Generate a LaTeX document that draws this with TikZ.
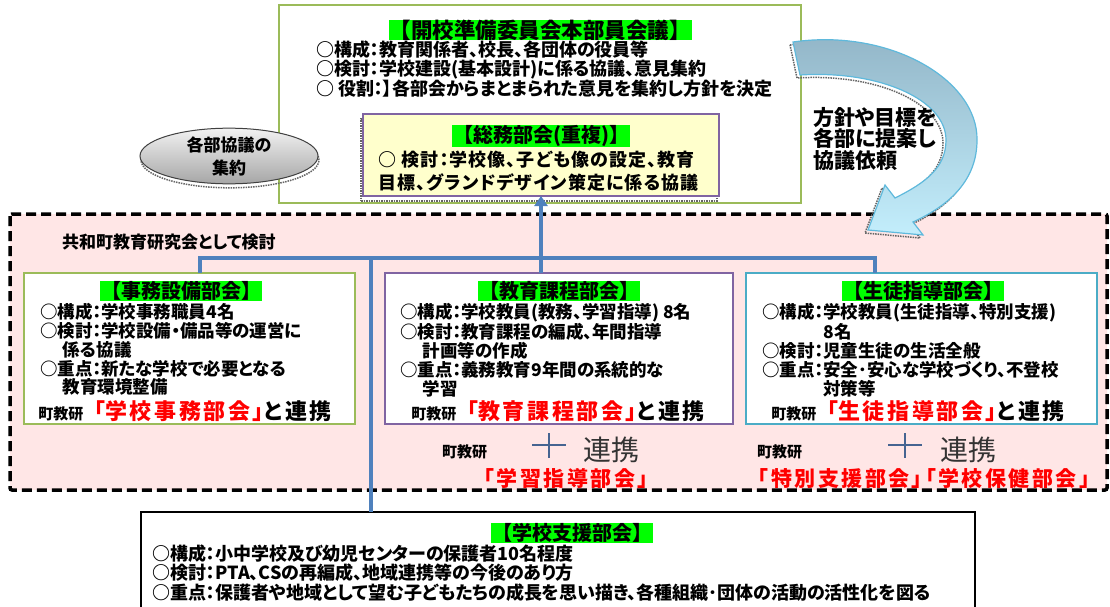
\documentclass[tikz,border=0pt]{standalone}
\usepackage{fontspec}
\setmainfont{Noto Sans CJK JP}[RawFeature=+palt]
\newfontfamily\zenkaku{Noto Sans CJK JP}
\newfontfamily\akitsume{Noto Sans CJK JP}[RawFeature=+palt, LetterSpace=12]
\newfontfamily\sukoshiaki{Noto Sans CJK JP}[RawFeature=+palt, LetterSpace=6]
\usepackage{tikz}
\usetikzlibrary{arrows.meta}
\usetikzlibrary{shapes.geometric}

\definecolor{wakumidori}{RGB}{155,187,89}
\definecolor{wakumurasaki}{RGB}{128,100,162}
\definecolor{wakumizu}{RGB}{75,172,198}
\definecolor{keiao}{RGB}{79,129,189}
\definecolor{momo}{RGB}{255,230,230}
\definecolor{kimidori}{RGB}{0,255,0}
\definecolor{usukiiro}{RGB}{255,255,204}
\definecolor{juji}{RGB}{70,100,145}

\newcommand\sz[1]{\fontsize{#1}{#1}\selectfont}
\newcommand\renkei[1]{{\zenkaku\sz{15}町教研}\textcolor{red}{{\zenkaku「}#1」}と連携}

\tikzset{
  bukai/.style={draw, fill=white, line width=2pt, inner sep=0pt, outer sep=0pt},
  midashi/.style={fill=kimidori, inner xsep=1pt, inner ysep=0pt, font=\zenkaku\bfseries\sz{20}},
  honbun/.style={anchor=north west, inner sep=0pt, align=left, font=\bfseries\fontsize{17.5}{18.75}\selectfont},
  renkeisen/.style={inner sep=0pt, font=\akitsume\bfseries\sz{22}},
  kyoken/.style={anchor=west, inner sep=0pt, font=\bfseries\sz{15}},
  futoi/.style={anchor=west, inner sep=0pt, font=\sz{28}, text=black!80},
  akamoji/.style={inner sep=0pt, text=red, font=\akitsume\bfseries\sz{21}},
  sen/.style={draw=keiao, line width=4pt},
  jujisen/.style={draw=juji, line width=2pt},
  kentou/.style={draw=black, fill=momo, line width=3.5pt, dash pattern=on 10pt off 5pt, rounded corners=2pt},
  tenkage/.style={preaction={draw=black!60, densely dotted, line width=1.5pt, transform canvas={shift={(#1)}}}},
}

\begin{document}
\begin{tikzpicture}[x=1pt,y=-1pt]
\useasboundingbox (0,0) rectangle (1110,607);

% kyowa-cho area
\draw[kentou] (10,214) rectangle (1107,490);
\node[anchor=west, inner sep=0pt, font=\bfseries\sz{17}] (kentoulabel) at (62,242) {共和町教育研究会として検討};

% honbu
\node[bukai, draw=wakumidori, minimum width=522pt, minimum height=198pt] (honbu) at (540,104) {};
\node[midashi, font=\zenkaku\bfseries\sz{21.5}] (honbuttl) at (540,30) {【開校準備委員会本部員会議】};
\node[honbun, font=\bfseries\fontsize{18}{19.5}\selectfont] (honbutxt) at (316,40.5)
  {○構成：教育関係者、校長、各団体の役員等\\○検討：学校建設(基本設計)に係る協議、意見集約\\○ 役割：】各部会からまとまられた意見を集約し方針を決定};

% soumu
\node[bukai, draw=wakumurasaki, fill=usukiiro, tenkage={-2pt,-5pt}, minimum width=356pt, minimum height=82pt] (soumu) at (541,155) {};
\node[midashi] (soumuttl) at (541,136) {【総務部会(重複)】};
\node[honbun, font=\sukoshiaki\bfseries\fontsize{18}{23}\selectfont] (soumutxt) at (378,150.5)
  {○ 検討：学校像、子ども像の設定、教育\\目標、グランドデザイン策定に係る協議};

% shuyaku
\node[ellipse, draw=black!75, line width=1pt, top color=black!5, bottom color=black!35, tenkage={1pt,-4pt},
  minimum width=178pt, minimum height=52pt, inner sep=0pt, align=center,
  font=\bfseries\fontsize{17}{23}\selectfont] (shuyaku) at (229,156) {各部協議の\\集約};

% teian arrow
\draw[draw={rgb,255:red,95;green,185;blue,220}, line width=1.2pt,
  top color={rgb,255:red,145;green,180;blue,198}, bottom color={rgb,255:red,195;green,238;blue,252},
  tenkage={-3pt,-3pt}]
  (793,42) .. controls (890,28) and (978,80) .. (977,140)
  .. controls (977,180) and (950,205) .. (913,222)
  -- (923,235) -- (868,230) -- (885,185) -- (895,198)
  .. controls (925,183) and (946,168) .. (946,140)
  .. controls (946,100) and (880,70) .. (800,75) -- cycle;
\node[anchor=north west, inner sep=0pt, align=left, font=\bfseries\fontsize{21}{21.5}\selectfont] (teian) at (813,107)
  {方針や目標を\\各部に提案し\\協議依頼};

% jimu
\node[bukai, draw=wakumidori, minimum width=331pt, minimum height=151pt] (jimu) at (189.5,348.5) {};
\node[midashi] (jimuttl) at (181,291) {【事務設備部会】};
\node[honbun] (jimutxt) at (40,303.5)
  {○構成：学校事務職員4名\\○検討：学校設備・備品等の運営に\\\hspace*{1.3em}係る協議\\○重点：新たな学校で必要となる\\\hspace*{1.3em}教育環境整備};
\node[renkeisen] (jimurenkei) at (185,411) {\renkei{学校事務部会}};

% kyoiku
\node[bukai, draw=wakumurasaki, minimum width=348pt, minimum height=151pt] (kyoiku) at (559,348.5) {};
\node[midashi] (kyoikuttl) at (559,291) {【教育課程部会】};
\node[honbun] (kyoikutxt) at (400,303.5)
  {○構成：学校教員(教務、学習指導) 8名\\○検討：教育課程の編成、年間指導\\\hspace*{1.3em}計画等の作成\\○重点：義務教育9年間の系統的な\\\hspace*{1.3em}学習};
\node[renkeisen] (kyoikurenkei) at (558,411) {\renkei{教育課程部会}};
\node[kyoken] (kyoken1) at (442,452) {町教研};
\draw[jujisen] (532,445) -- (566,445);
\draw[jujisen] (549,433) -- (549,458);
\node[futoi] (renkei1) at (583,450) {連携};
\node[akamoji] (gakushu) at (566,478) {「学習指導部会」};

% seito
\node[bukai, draw=wakumizu, minimum width=351pt, minimum height=151pt] (seito) at (921.5,348.5) {};
\node[midashi] (seitottl) at (923,291) {【生徒指導部会】};
\node[honbun] (seitotxt) at (762,303.5)
  {○構成：学校教員(生徒指導、特別支援)\\\phantom{○構成：}8名\\○検討：児童生徒の生活全般\\○重点：安全･安心な学校づくり、不登校\\\phantom{○重点：}対策等};
\node[renkeisen] (seitorenkei) at (918,411) {\renkei{生徒指導部会}};
\node[kyoken] (kyoken2) at (757,452) {町教研};
\draw[jujisen] (888,445) -- (922,445);
\draw[jujisen] (905,433) -- (905,458);
\node[futoi] (renkei2) at (940,450) {連携};
\node[akamoji] (tokubetsu) at (924,478) {「特別支援部会」「学校保健部会」};

% shien
\node[bukai, draw=black, line width=1.5pt, minimum width=834pt, minimum height=100pt] (shien) at (558,562) {};
\node[midashi] (shienttl) at (572,533) {【学校支援部会】};
\node[honbun, font=\bfseries\fontsize{18}{19.5}\selectfont] (shientxt) at (152,544.5)
  {○構成：小中学校及び幼児センターの保護者10名程度\\○検討：PTA、CSの再編成、地域連携等の今後のあり方\\○重点：保護者や地域として望む子どもたちの成長を思い描き、各種組織･団体の活動の活性化を図る};

% lines
\coordinate (barL) at (200,258);
\coordinate (barM) at (371,258);
\coordinate (barR) at (875,258);
\draw[sen] (barL |- jimu.north) -- (barL) -- (barR) -- (barR |- seito.north);
\draw[sen] (barM) -- (barM |- shien.north);
\draw[sen, -{Triangle[length=10pt,width=13pt]}] (soumu.south |- kyoiku.north) -- (soumu.south);
\end{tikzpicture}
\end{document}
